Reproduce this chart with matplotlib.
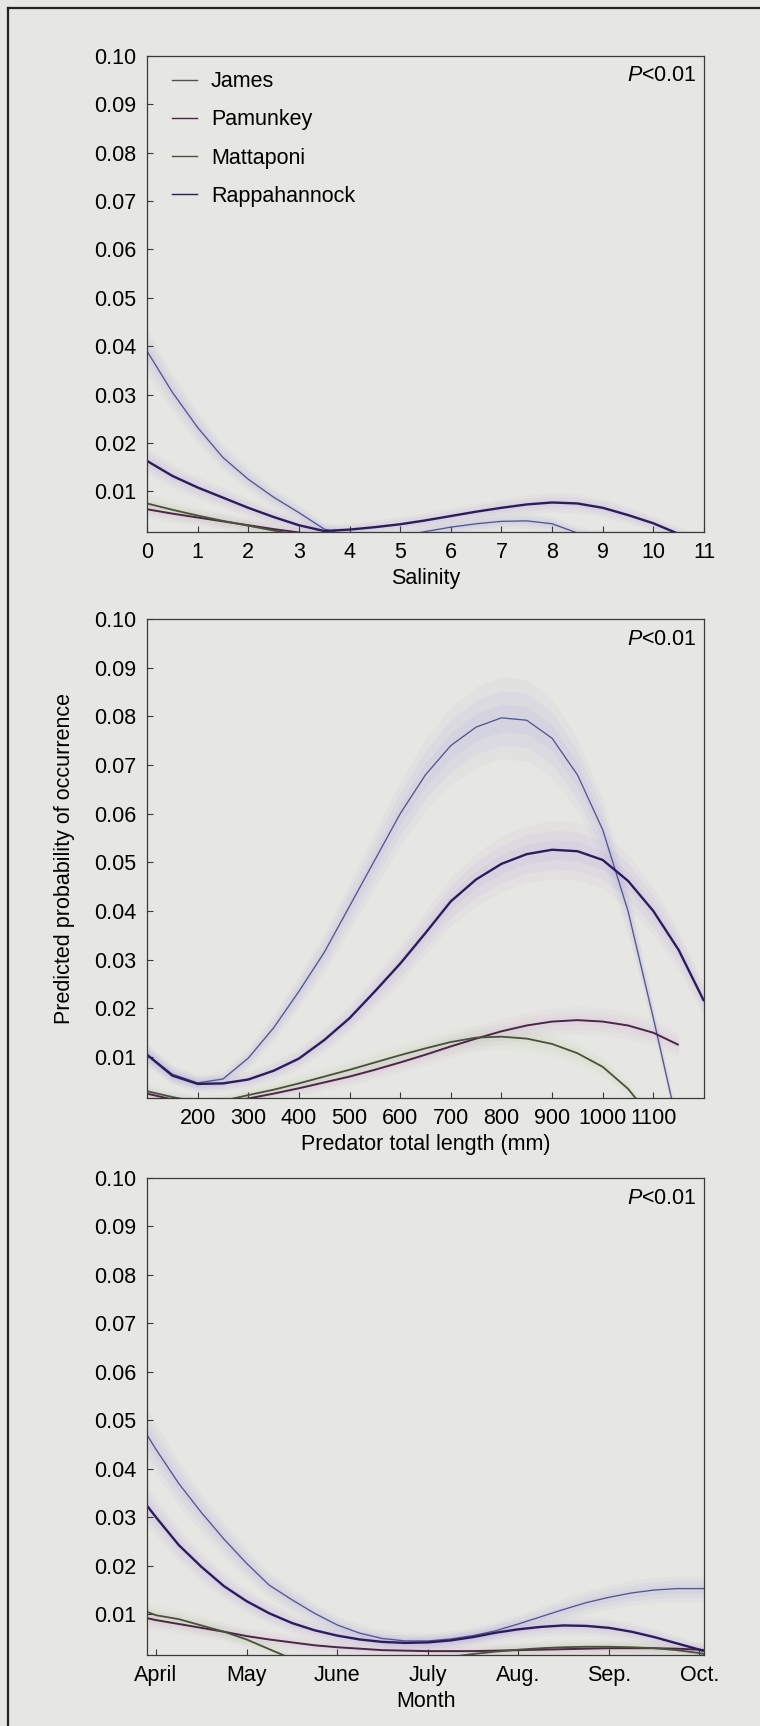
import numpy as np
import matplotlib
matplotlib.use("Agg")
import matplotlib.pyplot as plt
from matplotlib.lines import Line2D

plt.rcParams['font.family'] = ['Liberation Sans', 'DejaVu Sans']
plt.rcParams['mathtext.fontset'] = 'custom'
plt.rcParams['mathtext.it'] = 'Liberation Sans:italic'
plt.rcParams['mathtext.rm'] = 'Liberation Sans'

# ---------------- data ----------------
rivers = ["James", "Pamunkey", "Mattaponi", "Rappahannock"]

salinity = [0, 0.5, 1, 1.5, 2, 2.5, 3, 3.5, 4, 4.5, 5, 5.5, 6, 6.5, 7, 7.5, 8, 8.5, 9, 9.5, 10, 10.5, 11]
sal_james = [0.0390, 0.0305, 0.0232, 0.0170, 0.0125, 0.0088, 0.0056, 0.0022, 0.0008, 0.0005, 0.0006, 0.0017,
             0.0026, 0.0033, 0.0038, 0.0039, 0.0033, 0.0014, 0.0006, 0.0005, 0.0005, 0.0005, 0.0005]
sal_pamunkey = [0.0063, 0.0054, 0.0046, 0.0038, 0.0030, 0.0022, 0.0015, 0.0008, 0.0005, 0.0005, 0.0005, 0.0005,
                0.0005, 0.0005, 0.0005, 0.0005, 0.0005, 0.0005, 0.0005, 0.0005, 0.0005, 0.0005, 0.0005]
sal_mattaponi = [0.0075, 0.0062, 0.0050, 0.0039, 0.0029, 0.0019, 0.0010, 0.0005, 0.0005, 0.0005, 0.0005, 0.0005,
                 0.0005, 0.0005, 0.0005, 0.0005, 0.0005, 0.0005, 0.0005, 0.0005, 0.0005, 0.0005, 0.0005]
sal_rappahannock = [0.0163, 0.0132, 0.0108, 0.0087, 0.0066, 0.0047, 0.0030, 0.0018, 0.0021, 0.0026, 0.0032, 0.0040,
                    0.0049, 0.0058, 0.0066, 0.0073, 0.0077, 0.0075, 0.0066, 0.0051, 0.0034, 0.0012, 0.0000]

length_mm = [100, 150, 200, 250, 300, 350, 400, 450, 500, 550, 600, 650, 700, 750, 800, 850, 900, 950, 1000,
             1050, 1100, 1150, 1200]
len_james = [0.0105, 0.0065, 0.0047, 0.0055, 0.0098, 0.0160, 0.0235, 0.0315, 0.0410, 0.0505, 0.0600, 0.0680,
             0.0740, 0.0778, 0.0797, 0.0792, 0.0755, 0.0680, 0.0567, 0.0400, 0.0180, -0.0050, np.nan]
len_pamunkey = [0.0025, 0.0013, 0.0005, 0.0007, 0.0015, 0.0025, 0.0036, 0.0048, 0.0060, 0.0074, 0.0089, 0.0105,
                0.0122, 0.0138, 0.0153, 0.0165, 0.0173, 0.0176, 0.0173, 0.0165, 0.0150, 0.0125, np.nan]
len_mattaponi = [0.0030, 0.0018, 0.0008, 0.0010, 0.0022, 0.0033, 0.0046, 0.0060, 0.0074, 0.0089, 0.0104, 0.0118,
                 0.0131, 0.0140, 0.0142, 0.0138, 0.0127, 0.0108, 0.0080, 0.0035, -0.0030, np.nan, np.nan]
len_rappahannock = [0.0105, 0.0062, 0.0045, 0.0046, 0.0054, 0.0072, 0.0097, 0.0135, 0.0180, 0.0235, 0.0292,
                    0.0355, 0.0420, 0.0465, 0.0497, 0.0517, 0.0526, 0.0523, 0.0505, 0.0462, 0.0400, 0.0320, 0.0215]

month_pos = [3.9, 4.0, 4.25, 4.5, 4.75, 5.0, 5.25, 5.5, 5.75, 6.0, 6.25, 6.5, 6.75, 7.0, 7.25, 7.5, 7.75, 8.0,
             8.25, 8.5, 8.75, 9.0, 9.25, 9.5, 9.75, 10.0, 10.05]
mon_james = [0.0470, 0.0440, 0.0370, 0.0310, 0.0255, 0.0205, 0.0160, 0.0130, 0.0102, 0.0078, 0.0061, 0.0050,
             0.0045, 0.0045, 0.0049, 0.0056, 0.0066, 0.0080, 0.0095, 0.0110, 0.0124, 0.0135, 0.0144, 0.0150,
             0.0153, 0.0153, 0.0153]
mon_pamunkey = [0.0092, 0.0088, 0.0080, 0.0072, 0.0064, 0.0055, 0.0048, 0.0042, 0.0036, 0.0032, 0.0029, 0.0026,
                0.0025, 0.0024, 0.0024, 0.0024, 0.0025, 0.0026, 0.0027, 0.0028, 0.0029, 0.0030, 0.0030, 0.0030,
                0.0029, 0.0027, 0.0026]
mon_mattaponi = [0.0105, 0.0098, 0.0090, 0.0077, 0.0064, 0.0048, 0.0028, 0.0008, 0.0005, 0.0005, 0.0005, 0.0005,
                 0.0005, 0.0005, 0.0012, 0.0018, 0.0023, 0.0027, 0.0030, 0.0032, 0.0033, 0.0033, 0.0032, 0.0030,
                 0.0026, 0.0020, 0.0018]
mon_rappahannock = [0.0324, 0.0300, 0.0243, 0.0198, 0.0158, 0.0127, 0.0102, 0.0082, 0.0067, 0.0056, 0.0048,
                    0.0043, 0.0041, 0.0042, 0.0046, 0.0053, 0.0062, 0.0069, 0.0074, 0.0077, 0.0076, 0.0072,
                    0.0064, 0.0053, 0.0040, 0.0027, 0.0024]

sal_ticks = list(range(0, 12))
len_ticks = [200, 300, 400, 500, 600, 700, 800, 900, 1000, 1100]
month_ticks = [4, 5, 6, 7, 8, 9, 10]
month_labels = ["April", "May", "June", "July", "Aug.", "Sep.", "Oct."]
y_ticks = [0.01, 0.02, 0.03, 0.04, 0.05, 0.06, 0.07, 0.08, 0.09, 0.10]

# ---------------- style ----------------
BG = '#e6e6e2'
line_colors = {"James": '#535690', "Pamunkey": '#4a2647', "Mattaponi": '#48523a', "Rappahannock": '#2b1d5c'}
band_colors = {"James": '#8c84d8', "Pamunkey": '#c99ad0', "Mattaponi": '#b4cc98', "Rappahannock": '#9a82d6'}
line_widths = {"James": 0.95, "Pamunkey": 1.4, "Mattaponi": 1.3, "Rappahannock": 1.7}
FS = 15.5

W, H = 760, 1726
fig = plt.figure(figsize=(W / 100, H / 100), dpi=100, facecolor=BG)

left = 147 / W
width = (704 - 147) / W
panels = [(56, 532), (619, 1098), (1178, 1655)]

def make_ax(top, bottom):
    ax = fig.add_axes([left, (H - bottom) / H, width, (bottom - top) / H], facecolor=BG)
    for sp in ax.spines.values():
        sp.set_color('#3a3a3a')
        sp.set_linewidth(0.9)
    ax.tick_params(direction='in', length=4, width=0.8, color='#3a3a3a', labelsize=FS)
    ax.tick_params(axis='x', pad=7)
    ax.tick_params(axis='y', pad=8)
    ax.set_ylim(0.0016, 0.10)
    ax.set_yticks(y_ticks)
    ax.set_yticklabels([f"{v:.2f}" for v in y_ticks])
    ax.text(0.987, 0.958, r"$\mathit{P}$<0.01", transform=ax.transAxes, ha='right', va='center', fontsize=FS)
    return ax

def draw(ax, x, series):
    x = np.asarray(x, dtype=float)
    for name, vals in series:
        y = np.asarray(vals, dtype=float)
        hw = 0.05 * np.abs(y) + 0.0007
        for k, a in [(1.8, 0.05), (1.2, 0.07), (0.6, 0.08)]:
            ax.fill_between(x, y - k * hw, y + k * hw, color=band_colors[name], alpha=a, lw=0)
    for name, vals in series:
        ax.plot(x, vals, color=line_colors[name], lw=line_widths[name], solid_capstyle='butt')

# Panel 1: salinity
ax1 = make_ax(*panels[0])
draw(ax1, salinity, [("James", sal_james), ("Pamunkey", sal_pamunkey),
                     ("Mattaponi", sal_mattaponi), ("Rappahannock", sal_rappahannock)])
ax1.set_xlim(0, 11)
ax1.set_xticks(sal_ticks)
ax1.set_xlabel("Salinity", fontsize=FS, labelpad=4)
handles = [Line2D([0], [0], color='#505050' if r == "James" else line_colors[r], lw=1.0) for r in rivers]
ax1.legend(handles, rivers, loc='upper left', bbox_to_anchor=(0.045, 0.968), frameon=False,
           fontsize=FS, handlelength=1.15, handletextpad=0.65, labelspacing=0.8,
           borderpad=0, borderaxespad=0)

# Panel 2: predator length
ax2 = make_ax(*panels[1])
draw(ax2, length_mm, [("James", len_james), ("Pamunkey", len_pamunkey),
                      ("Mattaponi", len_mattaponi), ("Rappahannock", len_rappahannock)])
ax2.set_xlim(100, 1200)
ax2.set_xticks(len_ticks)
ax2.set_xlabel("Predator total length (mm)", fontsize=FS, labelpad=4)

# Panel 3: month
ax3 = make_ax(*panels[2])
draw(ax3, month_pos, [("James", mon_james), ("Pamunkey", mon_pamunkey),
                      ("Mattaponi", mon_mattaponi), ("Rappahannock", mon_rappahannock)])
ax3.set_xlim(3.9, 10.05)
ax3.set_xticks(month_ticks)
ax3.set_xticklabels(month_labels)
ax3.set_xlabel("Month", fontsize=FS, labelpad=4)

# shared y label, centred on the middle panel
fig.text(65 / W, 1 - (619 + 1098) / 2 / H, "Predicted probability of occurrence",
         rotation=90, ha='center', va='center', fontsize=FS)

# outer frame (left and top)
fig.add_artist(Line2D([8 / W, 8 / W], [0, 1 - 8 / H], color='#222222', lw=1.6, transform=fig.transFigure))
fig.add_artist(Line2D([8 / W, 1], [1 - 8 / H, 1 - 8 / H], color='#222222', lw=1.6, transform=fig.transFigure))

fig.savefig("out.png", dpi=100, facecolor=BG)
